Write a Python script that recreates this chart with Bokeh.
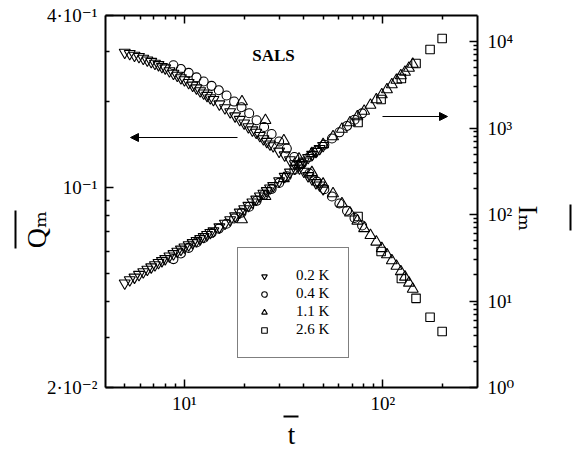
import math
from bokeh.plotting import figure
from bokeh.models import Range1d, LogScale, LogAxis, FixedTicker, Label, Arrow, NormalHead
from bokeh.embed import file_html
from bokeh.resources import INLINE

# ---------------------------------------------------------------------------
# SALS scaling data: reduced time t, peak position Q_m (left axis) and
# peak intensity I_m (right axis) for four quench depths.
# ---------------------------------------------------------------------------
t_02 = [5.0, 5.3, 5.6, 5.9, 6.2, 6.5, 6.8, 7.1, 7.4, 7.7, 8.0, 8.4, 8.8, 9.2, 9.6,
        10.0, 10.5, 11.0, 11.5, 12.0, 12.5, 13.0, 13.5, 14, 15, 16, 17, 18, 19, 20,
        21, 22, 23, 24, 25, 26, 27, 28, 30, 32, 34, 36, 38, 40, 42, 44, 46, 48, 50]
q_02 = [.297, .294, .290, .287, .283, .279, .276, .272, .269, .265, .262, .256, .251,
        .247, .242, .238, .233, .228, .223, .218, .214, .210, .206, .203, .196, .190,
        .184, .178, .173, .168, .163, .159, .156, .152, .148, .145, .142, .140, .134,
        .130, .125, .121, .117, .114, .110, .107, .104, .102, .099]
i_02 = [16.1, 17.5, 18.8, 20.2, 21.7, 23.2, 24.7, 26.1, 27.7, 29.2, 30.8, 33.0, 35.1,
        37.4, 39.6, 41.9, 44.5, 47.1, 49.8, 52.4, 55.4, 58.4, 61.6, 64.6, 71.7, 78.9,
        86.6, 96.1, 106, 116, 127, 139, 150, 163, 175, 188, 202, 215, 245, 275, 308,
        341, 378, 414, 454, 494, 535, 578, 624]

t_04 = [8.8, 9.6, 10.5, 11.5, 12.5, 13.7, 14.9, 16.3, 17.8, 19.4, 21.2, 23.1, 25.2,
        27.5, 30, 32.8, 35.8, 39, 42.6, 46.5, 50.7, 55.4, 60.4, 66, 72, 78.6]
q_04 = [.268, .260, .252, .243, .235, .227, .219, .210, .200, .191, .182, .172, .163,
        .154, .145, .137, .128, .121, .112, .105, .0988, .0931, .0880, .0830, .0783,
        .0737]
i_04 = [30.5, 35.4, 41.2, 47.5, 53.6, 61.1, 68.7, 78.3, 89.9, 105, 123, 144, 169, 198,
        232, 277, 330, 391, 463, 547, 640, 756, 892, 1057, 1247, 1479]

t_11 = [19.5, 25.6, 31.7, 37.8, 43.9, 50, 56.1, 62.2, 68.3, 74.4, 80.5, 86.6, 92.7,
        98.8, 104.9, 111, 117.1, 123.2, 129.3, 135.4, 141.5]
q_11 = [.200, .172, .146, .126, .113, .103, .0953, .0879, .0816, .0765, .0720, .0681,
        .0646, .0613, .0583, .0556, .0532, .0509, .0487, .0464, .0442]
i_11 = [87.5, 162, 261, 374, 508, 645, 798, 973, 1158, 1358, 1573, 1845, 2135, 2440,
        2787, 3184, 3589, 4047, 4440, 4940, 5495]

t_26 = [75, 98, 124, 147, 173, 199]
q_26 = [.0793, .0598, .0481, .0410, .0352, .0314]
i_26 = [1158, 2135, 3735, 5570, 8080, 10830]

series_labels = ["0.2 K", "0.4 K", "1.1 K", "2.6 K"]
markers = ["inverted_triangle", "circle", "triangle", "square"]

# axis ticks and their labels
x_major = [10, 100]
x_minor = [5, 6, 7, 8, 9, 20, 30, 40, 50, 60, 70, 80, 90, 200]
q_major = [0.02, 0.1, 0.4]
q_minor = [0.03, 0.04, 0.05, 0.06, 0.07, 0.08, 0.09, 0.2, 0.3]
i_major = [1, 10, 100, 1000, 10000]
i_minor = [m * d for d in (1, 10, 100, 1000) for m in range(2, 10)]
x_tick_text = {10: "10\u00b9", 100: "10\u00b2"}
q_tick_text = {0.4: "4\u00b710\u207b\u00b9", 0.1: "10\u207b\u00b9",
               0.02: "2\u00b710\u207b\u00b2"}
i_tick_text = {1: "10\u2070", 10: "10\u00b9", 100: "10\u00b2", 1000: "10\u00b3",
               10000: "10\u2074"}

T_MIN, T_MAX = 4, 300
Q_MIN, Q_MAX = 0.02, 0.4
I_MIN, I_MAX = 1, 2e4

SERIF = "'Liberation Serif', 'DejaVu Serif', serif"
W, H = 576, 455
LEFT, RIGHT, TOP, BOTTOM = 105, 99, 15, 68
FW, FH = W - LEFT - RIGHT, H - TOP - BOTTOM


# page pixel -> data coordinates (used for annotation placement only)
def t_at(px):
    return T_MIN * 10 ** ((px - LEFT) / FW * math.log10(T_MAX / T_MIN))


def q_at(py):
    return Q_MIN * 10 ** ((TOP + FH - py) / FH * math.log10(Q_MAX / Q_MIN))


def i_at(py):
    return I_MIN * 10 ** ((TOP + FH - py) / FH * math.log10(I_MAX / I_MIN))


p = figure(width=W, height=H, x_axis_type="log", y_axis_type="log",
           x_range=Range1d(T_MIN, T_MAX), y_range=Range1d(Q_MIN, Q_MAX),
           output_backend="svg", toolbar_location=None,
           min_border_left=LEFT, min_border_right=RIGHT,
           min_border_top=TOP, min_border_bottom=BOTTOM,
           background_fill_color="white", border_fill_color="white",
           outline_line_color=None)
p.extra_y_ranges = {"I": Range1d(I_MIN, I_MAX)}
p.extra_y_scales = {"I": LogScale()}
p.xgrid.visible = False
p.ygrid.visible = False

top_axis = LogAxis()
right_axis = LogAxis(y_range_name="I")
p.add_layout(top_axis, "above")
p.add_layout(right_axis, "right")


def style_axis(ax, major, minor, labels, standoff):
    ax.ticker = FixedTicker(ticks=major, minor_ticks=minor)
    ax.axis_line_width = 2
    ax.axis_line_color = "black"
    ax.major_tick_in = 8
    ax.major_tick_out = 0
    ax.minor_tick_in = 4
    ax.minor_tick_out = 0
    ax.major_tick_line_width = 1.5
    ax.minor_tick_line_width = 1.5
    ax.major_tick_line_color = "black"
    ax.minor_tick_line_color = "black"
    ax.major_label_overrides = labels
    ax.major_label_standoff = standoff
    ax.major_label_text_font = SERIF
    ax.major_label_text_font_size = "19px"
    ax.major_label_text_color = "black"
    ax.axis_label_text_font = SERIF
    ax.axis_label_text_font_style = "normal"
    ax.axis_label_text_color = "black"


style_axis(p.below[0], x_major, x_minor, x_tick_text, 5)
style_axis(top_axis, x_major, x_minor, {v: "" for v in x_major}, 0)
style_axis(p.left[0], q_major, q_minor, q_tick_text, 8)
style_axis(right_axis, i_major, i_minor, i_tick_text, 10)


def overbar(bounds, y_range_name="default", side="left", title=None, size="0px"):
    """A bare axis line limited to `bounds`: the bar over an axis title."""
    ax = LogAxis(bounds=bounds, y_range_name=y_range_name,
                 ticker=FixedTicker(ticks=[], minor_ticks=[]))
    ax.axis_line_width = 2
    ax.axis_line_color = "black"
    ax.major_tick_in = ax.major_tick_out = 0
    ax.minor_tick_in = ax.minor_tick_out = 0
    ax.major_label_standoff = 0
    ax.major_label_text_font_size = "0px"
    ax.axis_label = title
    ax.axis_label_standoff = 0
    ax.axis_label_text_font = SERIF
    ax.axis_label_text_font_size = size
    ax.axis_label_text_font_style = "normal"
    ax.axis_label_text_color = "black"
    p.add_layout(ax, side)
    return ax


EM, QEM, NBSP = "\u2003", "\u2005", "\u00a0"

# left: Q_m title on the main axis, bar outside it
p.left[0].axis_label = NBSP + "\nQ\u2098" + EM * 2
p.left[0].axis_label_text_font_size = "28px"
p.left[0].axis_label_text_line_height = 0.08
p.left[0].axis_label_standoff = -8
overbar((q_at(248), q_at(210)), side="left")

# right: I_m title, an empty first line keeps the bar clear of the letters
right_axis.axis_label = NBSP + "\n" + EM + QEM + "I\u2098"
right_axis.axis_label_text_font_size = "27px"
right_axis.axis_label_text_line_height = 0.8
right_axis.axis_label_standoff = -4
overbar((i_at(230), i_at(204)), y_range_name="I", side="right")

# bottom: the bar sits between tick labels and the t title
tbar = overbar((t_at(283), t_at(298)), side="below", title="t", size="27px")
tbar.axis_label_standoff = 3

# ---- scatter series
sizes = {"inverted_triangle": 11, "circle": 9, "triangle": 11, "square": 8.5}
sets = [(t_02, q_02, i_02), (t_04, q_04, i_04), (t_11, q_11, i_11), (t_26, q_26, i_26)]
for (t, q, i), lab, mk in zip(sets, series_labels, markers):
    p.scatter(t, q, marker=mk, size=sizes[mk], line_color="black", fill_color=None,
              line_width=1.1, legend_label=lab)
    p.scatter(t, i, marker=mk, size=sizes[mk], line_color="black", fill_color=None,
              line_width=1.1, y_range_name="I")

leg = p.legend[0]
leg.location = (132, 29)
leg.border_line_color = "black"
leg.border_line_width = 1
leg.background_fill_alpha = 1
leg.padding = 19
leg.spacing = 1
leg.margin = 0
leg.glyph_width = 14
leg.glyph_height = 16
leg.label_height = 16
leg.label_standoff = 25
leg.label_text_font = SERIF
leg.label_text_font_size = "15px"
leg.label_text_color = "black"

p.add_layout(Label(x=t_at(273), y=q_at(55), text="SALS", text_font=SERIF,
                   text_font_size="17px", text_font_style="bold", text_color="black",
                   text_align="center", text_baseline="middle"))

# direction arrows: Q_m read on the left axis, I_m on the right axis
p.add_layout(Arrow(end=NormalHead(size=8, fill_color="black", line_color="black"),
                   x_start=t_at(237), y_start=q_at(137), x_end=t_at(130),
                   y_end=q_at(137), line_width=1.2, line_color="black"))
p.add_layout(Arrow(end=NormalHead(size=8, fill_color="black", line_color="black"),
                   x_start=t_at(382), y_start=q_at(116), x_end=t_at(447),
                   y_end=q_at(116), line_width=1.2, line_color="black"))

open("out.html", "w").write(file_html(p, INLINE))
